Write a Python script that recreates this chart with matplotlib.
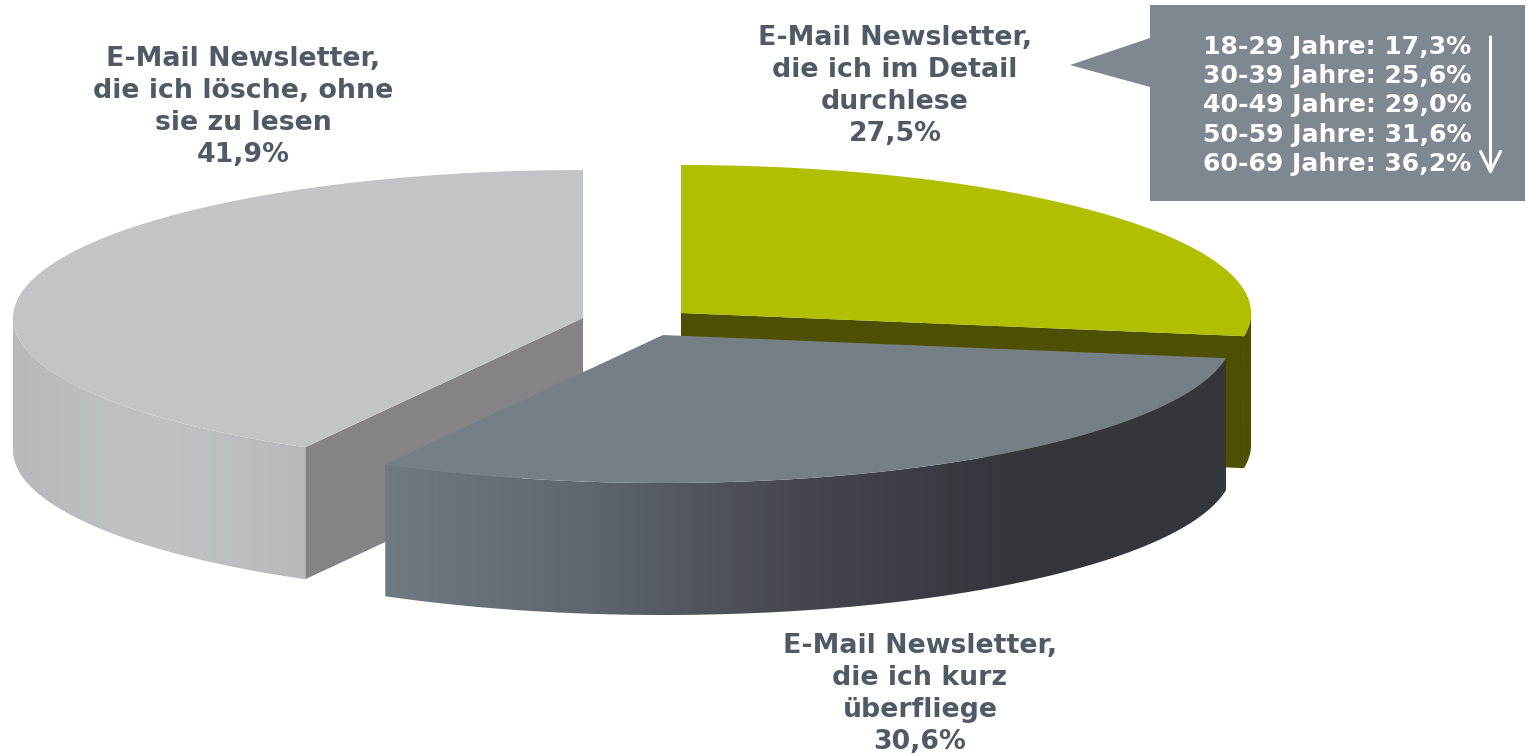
import numpy as np
from matplotlib import pyplot as plt
from matplotlib.colors import LinearSegmentedColormap
from matplotlib.patches import Polygon

# clockwise from 12 o'clock
labels = ["E-Mail Newsletter,\ndie ich im Detail\ndurchlese",
          "E-Mail Newsletter,\ndie ich kurz\nüberfliege",
          "E-Mail Newsletter,\ndie ich lösche, ohne\nsie zu lesen"]
shares = [27.5, 30.6, 41.9]
age_groups = ["18-29", "30-39", "40-49", "50-59", "60-69"]
age_shares = [17.3, 25.6, 29.0, 31.6, 36.2]

top_colors = ["#b0bf00", "#767e86", "#c3c4c6"]
face_colors = ["#4d5000", None, "#858388"]
wall_colors = [["#4d5000", "#4d5000"],
               ["#6f7a82", "#5f656c", "#43464d", "#33373c", "#33373c"],
               ["#b8b9bd", "#c2c2c5", "#b9babe"]]
centers = [(681, 313), (663, 335), (583, 318)]
label_pos = [(895, 86), (920, 694), (243, 107)]

RX, RY, DEPTH = 570, 148, 132
TEXT = "#4f5a65"
BOX = "#7f8890"


def rim(center, a, b):
    t = np.radians(np.linspace(a, b, 200))
    return np.column_stack([center[0] + RX * np.sin(t), center[1] - RY * np.cos(t)])


def fmt(v):
    return "{:.1f}%".format(v).replace(".", ",")


fig = plt.figure(figsize=(15.28, 7.56), dpi=100)
ax = fig.add_axes([0, 0, 1, 1])
down = np.array([0, DEPTH])

edges = np.concatenate([[0], np.cumsum(shares) / sum(shares) * 360])
# back to front: light grey, green, dark
for z, i in enumerate([2, 0, 1]):
    a, b = edges[i], edges[i + 1]
    c = centers[i]

    # cut faces that look towards the viewer
    if face_colors[i] is not None:
        corner = rim(c, a, a)[0] if i == 2 else rim(c, b, b)[0]
        quad = [c, corner, corner + down, np.array(c) + down]
        ax.add_patch(Polygon(quad, fc=face_colors[i], ec="none", zorder=z + 1))

    # outer wall, only the front half of the rim is visible
    arc = rim(c, max(a, 90), min(b, 270))
    wall = Polygon(np.vstack([arc, (arc + down)[::-1]]), fc="none", ec="none")
    ax.add_patch(wall)
    cmap = LinearSegmentedColormap.from_list("wall", wall_colors[i])
    im = ax.imshow(np.linspace(0, 1, 256).reshape(1, -1),
                   extent=[arc[:, 0].min(), arc[:, 0].max(), arc[:, 1].max() + DEPTH, arc[:, 1].min()],
                   cmap=cmap, vmin=0, vmax=1, aspect="auto", zorder=z + 1.1)
    im.set_clip_path(wall)

    # top
    ax.add_patch(Polygon(np.vstack([[c], rim(c, a, b)]), fc=top_colors[i], ec="none", zorder=z + 1.2))

    ax.text(label_pos[i][0], label_pos[i][1], labels[i] + "\n" + fmt(shares[i]),
            ha="center", va="center", fontsize=19.3, fontweight="bold", color=TEXT,
            linespacing=1.3, zorder=10)

# speech bubble with the age split
bubble = [(1150, 5), (1525, 5), (1525, 201), (1150, 201), (1150, 87), (1070, 65), (1150, 38)]
ax.add_patch(Polygon(bubble, fc=BOX, ec="none", zorder=5))
for j, (g, v) in enumerate(zip(age_groups, age_shares)):
    ax.text(1203, 47 + j * 29.2, "{} Jahre: {}".format(g, fmt(v)), ha="left", va="center",
            fontsize=18.1, fontweight="bold", color="white", zorder=6)
ax.annotate("", xy=(1490.5, 175), xytext=(1490.5, 37), zorder=6,
            arrowprops=dict(arrowstyle="->,head_length=1.45,head_width=0.72", color="white", lw=2.2,
                            shrinkA=0, shrinkB=0))

ax.set_xlim(0, 1528)
ax.set_ylim(756, 0)
ax.axis("off")
fig.savefig("out.png", dpi=100)
